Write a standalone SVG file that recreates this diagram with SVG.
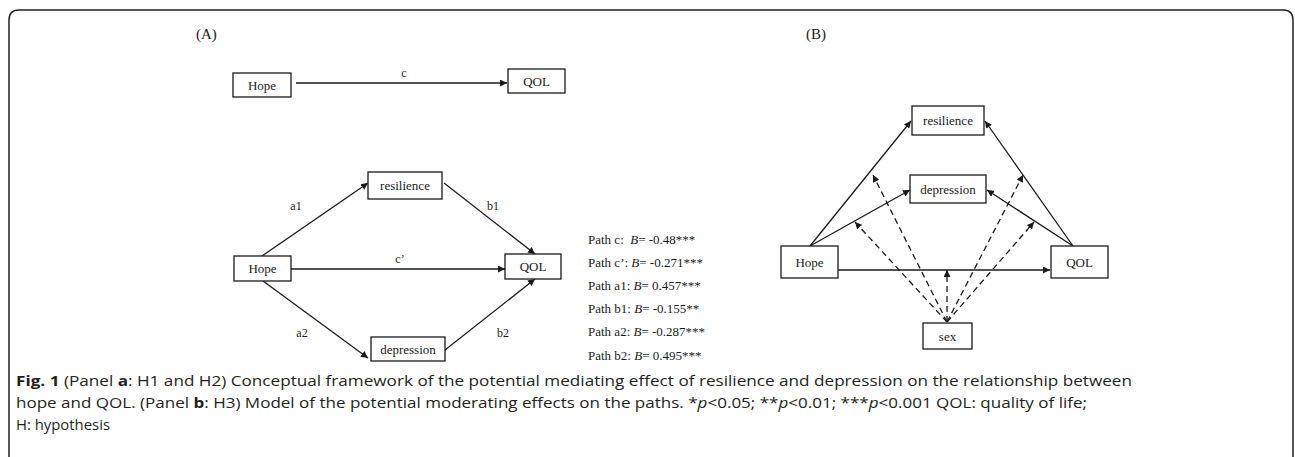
<svg xmlns="http://www.w3.org/2000/svg" width="1295" height="457" viewBox="0 0 1295 457">
<defs>
<marker id="ah" viewBox="0 0 10 10" refX="10" refY="5" markerWidth="7" markerHeight="7" markerUnits="userSpaceOnUse" orient="auto">
<path d="M0,0 L10,5 L0,10 z" fill="#1a1a1a"/>
</marker>
<style>
.box{fill:#fff;stroke:#1a1a1a;stroke-width:1.3}
.lbl{font-family:"Liberation Serif","Times New Roman",serif;font-size:13px;fill:#1a1a1a;text-anchor:middle}
.el{font-family:"Liberation Serif","Times New Roman",serif;font-size:12px;fill:#1a1a1a;text-anchor:middle}
.pt{font-family:"Liberation Serif","Times New Roman",serif;font-size:13px;fill:#1a1a1a}
.hd{font-family:"Liberation Serif","Times New Roman",serif;font-size:15px;fill:#1a1a1a}
.ln{fill:none;stroke:#1a1a1a;stroke-width:1.3;marker-end:url(#ah)}
.dl{fill:none;stroke:#1a1a1a;stroke-width:1.3;stroke-dasharray:6,4;marker-end:url(#ah)}
.cap{font-family:"Open Sans","Noto Sans",sans-serif;font-size:15px;fill:#231f20}
</style>
</defs>
<path d="M9,457 L9,20 Q9,10 19,10 L1283,10 Q1293,10 1293,20 L1293,457" fill="none" stroke="#231f20" stroke-width="1.5"/>
<text class="hd" x="196" y="39">(A)</text>
<text class="hd" x="806" y="39">(B)</text>

<g id="connectors">
<path class="ln" d="M296,83 L507,83"/>
<path class="ln" d="M262,256 L368,183"/>
<path class="ln" d="M444,183 L535,254"/>
<path class="ln" d="M291,269 L505,269"/>
<path class="ln" d="M263,281 L368,358"/>
<path class="ln" d="M445,350 L535,279"/>
<path class="ln" d="M810,246 L911,121"/>
<path class="ln" d="M810,246 L910,190"/>
<path class="ln" d="M838,270 L1050,270"/>
<path class="ln" d="M1073,246 L985,121"/>
<path class="ln" d="M1073,246 L987,190"/>
<path class="dl" d="M947,322 L873,175"/>
<path class="dl" d="M947,322 L855,222"/>
<path class="dl" d="M947,322 L947,270"/>
<path class="dl" d="M947,322 L1023,175"/>
<path class="dl" d="M947,322 L1034,222"/>
<text class="el" x="404" y="77">c</text>
<text class="el" x="296" y="210">a1</text>
<text class="el" x="493" y="210">b1</text>
<text class="el" x="400" y="263">c’</text>
<text class="el" x="302" y="337">a2</text>
<text class="el" x="503" y="337">b2</text>
</g>

<g id="a-hope-top"><rect class="box" x="233" y="73" width="58" height="24"/><text class="lbl" x="262" y="89.5">Hope</text></g>
<g id="a-qol-top"><rect class="box" x="508" y="69" width="57" height="24"/><text class="lbl" x="536.5" y="85.5">QOL</text></g>
<g id="a-resilience"><rect class="box" x="368" y="172" width="74" height="27"/><text class="lbl" x="405" y="190">resilience</text></g>
<g id="a-hope"><rect class="box" x="234" y="256" width="57" height="25"/><text class="lbl" x="262.5" y="273">Hope</text></g>
<g id="a-qol"><rect class="box" x="505" y="254" width="56" height="25"/><text class="lbl" x="533" y="271">QOL</text></g>
<g id="a-depression"><rect class="box" x="371" y="337" width="74" height="24"/><text class="lbl" x="408" y="353.5">depression</text></g>

<g id="paths-text">
<text class="pt" x="588" y="244">Path c:&#160; <tspan font-style="italic">B</tspan>= -0.48***</text>
<text class="pt" x="588" y="267">Path c’: <tspan font-style="italic">B</tspan>= -0.271***</text>
<text class="pt" x="588" y="290">Path a1: <tspan font-style="italic">B</tspan>= 0.457***</text>
<text class="pt" x="588" y="313">Path b1: <tspan font-style="italic">B</tspan>= -0.155**</text>
<text class="pt" x="588" y="336">Path a2: <tspan font-style="italic">B</tspan>= -0.287***</text>
<text class="pt" x="588" y="360">Path b2: <tspan font-style="italic">B</tspan>= 0.495***</text>
</g>

<g id="b-resilience"><rect class="box" x="912" y="106" width="72" height="29"/><text class="lbl" x="948" y="125">resilience</text></g>
<g id="b-depression"><rect class="box" x="910" y="175" width="76" height="28"/><text class="lbl" x="948" y="193.5">depression</text></g>
<g id="b-hope"><rect class="box" x="781" y="246" width="57" height="32"/><text class="lbl" x="809.5" y="266.5">Hope</text></g>
<g id="b-qol"><rect class="box" x="1051" y="246" width="57" height="32"/><text class="lbl" x="1079.5" y="266.5">QOL</text></g>
<g id="b-sex"><rect class="box" x="923" y="323" width="49" height="26"/><text class="lbl" x="947.5" y="341">sex</text></g>

<g id="caption">
<text class="cap" x="16" y="386" textLength="1116" lengthAdjust="spacingAndGlyphs"><tspan font-weight="bold">Fig. 1</tspan> (Panel <tspan font-weight="bold">a</tspan>: H1 and H2) Conceptual framework of the potential mediating effect of resilience and depression on the relationship between</text>
<text class="cap" x="16" y="408" textLength="1071" lengthAdjust="spacingAndGlyphs">hope and QOL. (Panel <tspan font-weight="bold">b</tspan>: H3) Model of the potential moderating effects on the paths. *<tspan font-style="italic">p</tspan>&lt;0.05; **<tspan font-style="italic">p</tspan>&lt;0.01; ***<tspan font-style="italic">p</tspan>&lt;0.001 QOL: quality of life;</text>
<text class="cap" x="16" y="430" textLength="94" lengthAdjust="spacingAndGlyphs">H: hypothesis</text>
</g>
</svg>
